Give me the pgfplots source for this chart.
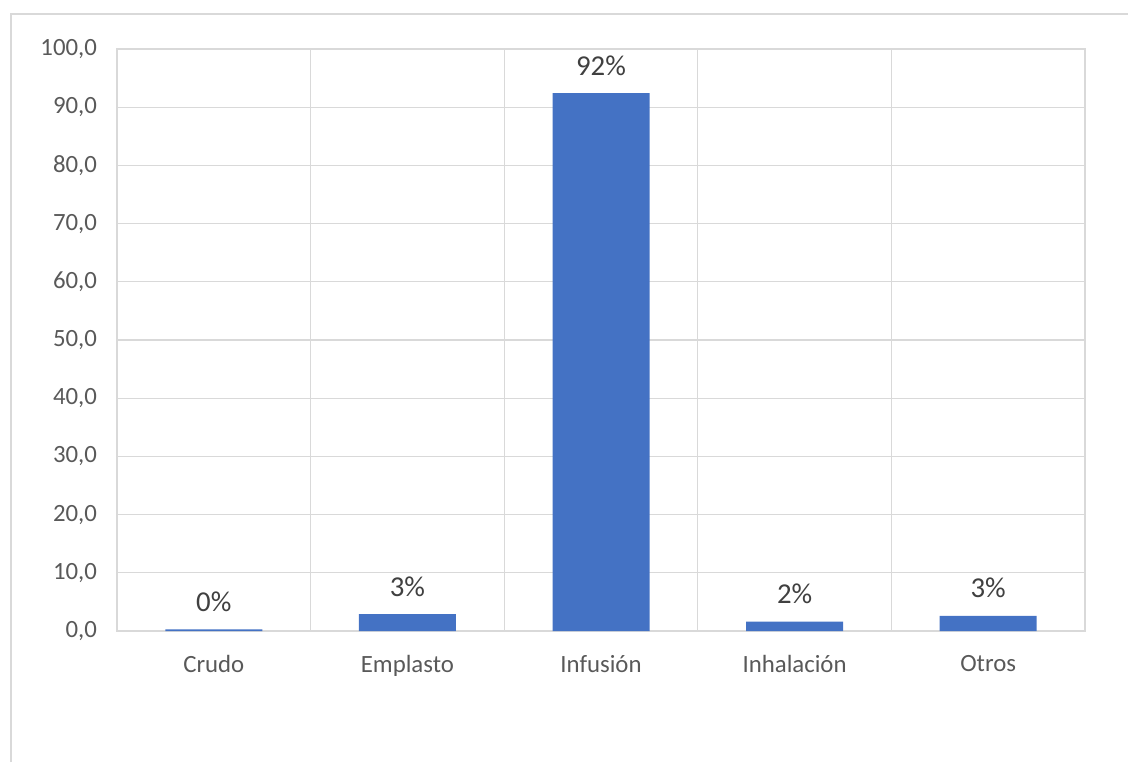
\documentclass[border=0pt]{standalone}
\usepackage{pgfplots}
\pgfplotsset{compat=1.18}
\usepackage{fontspec}
\setmainfont{Carlito}
\definecolor{barblue}{HTML}{4472C4}
\definecolor{gridgray}{HTML}{D9D9D9}
\definecolor{ticktext}{HTML}{595959}
\definecolor{labeltext}{HTML}{404040}
\begin{document}
\begin{tikzpicture}
\useasboundingbox (0,0) rectangle (564pt,381pt);
\draw[gridgray, line width=1pt] (5.5pt,0) -- (5.5pt,374pt) -- (564pt,374pt);
\begin{axis}[
  at={(58.5pt,65.5pt)}, anchor=south west,
  scale only axis, width=484pt, height=291pt,
  xmin=-0.5, xmax=4.5, ymin=0, ymax=100,
  xtick={0,1,2,3,4},
  xticklabels={Crudo,Emplasto,Infusión,Inhalación,Otros},
  minor xtick={-0.5,0.5,1.5,2.5,3.5,4.5},
  ytick={0,10,...,100},
  xminorgrids=true, ymajorgrids=true,
  grid style={gridgray, line width=0.6pt},
  minor grid style={gridgray, line width=0.6pt},
  axis line style={gridgray, line width=0.6pt},
  major tick length=0pt, minor tick length=0pt,
  tick style={draw=none},
  /pgf/number format/assume math mode=true,
  yticklabel style={/pgf/number format/fixed, /pgf/number format/fixed zerofill, /pgf/number format/precision=1, /pgf/number format/use comma, /pgf/number format/1000 sep={}, xshift=-6.5pt},
  ticklabel style={font=\fontsize{12.4}{14}\selectfont, text=ticktext},
  xticklabel style={yshift=-8.5pt},
  ybar, bar width=48.5pt,
  nodes near coords, point meta=explicit symbolic,
  nodes near coords style={font=\fontsize{14.4}{16}\selectfont, text=labeltext, yshift=5.3pt},
  clip=false,
]
\addplot[fill=barblue, draw=none] coordinates {
  (0,0.3) [0\%]
  (1,2.9) [3\%]
  (2,92.4) [92\%]
  (3,1.6) [2\%]
  (4,2.6) [3\%]
};
\end{axis}
\end{tikzpicture}
\end{document}
